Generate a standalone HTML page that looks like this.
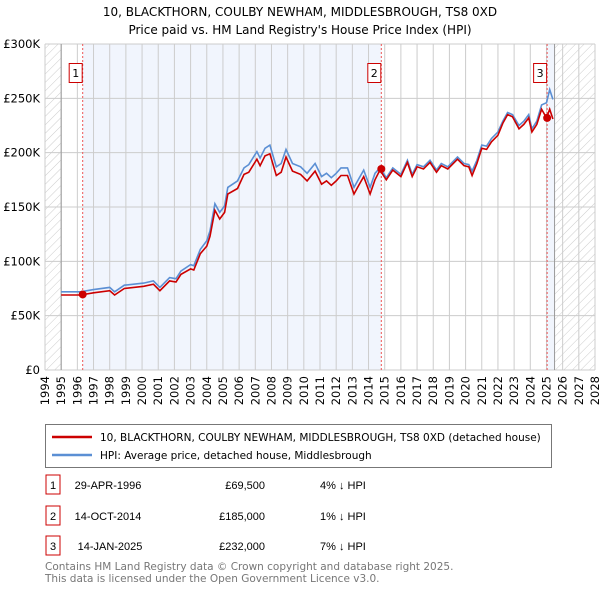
<!DOCTYPE html>
<html><head><meta charset="utf-8"><style>
body{margin:0;background:#fff;font-family:"Liberation Sans","DejaVu Sans",sans-serif;}
svg text{font-family:"DejaVu Sans","Liberation Sans",sans-serif;}
svg .tbl text{font-family:"Liberation Sans","DejaVu Sans",sans-serif;}
</style></head><body>
<svg id="chart" width="600" height="590" xmlns="http://www.w3.org/2000/svg">
<defs><pattern id="hatch" patternUnits="userSpaceOnUse" width="6" height="6" patternTransform="rotate(45)"><line x1="0" y1="0" x2="0" y2="6" stroke="#ccc" stroke-width="1"/></pattern></defs>
<text x="300" y="16" text-anchor="middle" font-size="12">10, BLACKTHORN, COULBY NEWHAM, MIDDLESBROUGH, TS8 0XD</text>
<text x="300" y="34" text-anchor="middle" font-size="12">Price paid vs. HM Land Registry's House Price Index (HPI)</text>
<g id="plot"></g>
<rect x="45.5" y="424.5" width="506" height="43" fill="#fff" stroke="#777"/>
<line x1="52" y1="437" x2="92" y2="437" stroke="#c00" stroke-width="2.5"/>
<text x="100" y="441" font-size="10.5">10, BLACKTHORN, COULBY NEWHAM, MIDDLESBROUGH, TS8 0XD (detached house)</text>
<line x1="52" y1="455" x2="92" y2="455" stroke="#5b8fd4" stroke-width="2.5"/>
<text x="100" y="459" font-size="10.5">HPI: Average price, detached house, Middlesbrough</text>
<g font-size="11" class="tbl">
<rect x="46" y="475" width="14" height="19" fill="none" stroke="#c00"/><text x="53" y="489" text-anchor="middle">1</text>
<text x="108" y="489" text-anchor="middle">29-APR-1996</text>
<text x="265" y="489" text-anchor="end">£69,500</text>
<text x="320" y="489">4% ↓ HPI</text>
<rect x="46" y="506" width="14" height="19" fill="none" stroke="#c00"/><text x="53" y="520" text-anchor="middle">2</text>
<text x="108" y="520" text-anchor="middle">14-OCT-2014</text>
<text x="265" y="520" text-anchor="end">£185,000</text>
<text x="320" y="520">1% ↓ HPI</text>
<rect x="46" y="536" width="14" height="19" fill="none" stroke="#c00"/><text x="53" y="550" text-anchor="middle">3</text>
<text x="110" y="550" text-anchor="middle">14-JAN-2025</text>
<text x="265" y="550" text-anchor="end">£232,000</text>
<text x="320" y="550">7% ↓ HPI</text>
</g>
<text x="45" y="570" font-size="10.5" fill="#777">Contains HM Land Registry data © Crown copyright and database right 2025.</text>
<text x="45" y="582" font-size="10.5" fill="#777">This data is licensed under the Open Government Licence v3.0.</text>
</svg>
<script>
const hpiYears=[1995.0,1996.2,1997.0,1998.0,1998.3,1998.9,2000.1,2000.7,2001.1,2001.7,2002.1,2002.4,2003.0,2003.2,2003.6,2004.0,2004.2,2004.5,2004.8,2005.1,2005.3,2005.9,2006.3,2006.6,2007.1,2007.3,2007.6,2007.9,2008.3,2008.6,2008.9,2009.3,2009.8,2010.2,2010.7,2011.1,2011.4,2011.7,2012.0,2012.3,2012.7,2013.1,2013.4,2013.7,2014.1,2014.4,2014.7,2015.1,2015.5,2016.0,2016.4,2016.7,2017.0,2017.4,2017.8,2018.2,2018.5,2018.9,2019.5,2019.9,2020.2,2020.4,2020.7,2021.0,2021.3,2021.6,2022.0,2022.3,2022.6,2022.9,2023.3,2023.6,2023.9,2024.1,2024.4,2024.7,2025.0,2025.2,2025.4];
const hpiValues=[72,72,74,76,72,78,80,82,76,85,84,91,97,96,111,119,128,153,145,151,168,174,186,189,201,195,204,207,187,190,203,190,187,181,190,178,181,177,181,186,186,168,176,184,168,181,186,177,186,180,193,180,189,187,193,184,190,187,196,190,189,183,193,207,206,213,219,229,237,235,225,229,235,222,229,244,246,258,249];
const priceValues=[69,69,71,73,69,75,77,79,73,82,81,88,93,92,107,114,123,147,139,145,162,167,180,182,194,188,197,199,179,182,196,183,180,174,183,171,174,170,174,179,179,162,170,178,162,175,184,175,184,178,191,178,187,185,191,182,188,185,194,188,187,179,190,204,203,210,216,227,235,233,222,226,232,219,226,240,232,240,231];
const saleYears=[1996.33,2014.79,2025.04];
const salePrices=[69.5,185,232];
const yTicks=[0,50,100,150,200,250,300];
const yTickLabels=["£0","£50K","£100K","£150K","£200K","£250K","£300K"];
const xTickYears=[1994,1995,1996,1997,1998,1999,2000,2001,2002,2003,2004,2005,2006,2007,2008,2009,2010,2011,2012,2013,2014,2015,2016,2017,2018,2019,2020,2021,2022,2023,2024,2025,2026,2027,2028];

const X0=45,X1=595,Y0=370,Y1=44;
const xs=y=>X0+(y-1994)/(2028-1994)*(X1-X0);
const ys=v=>Y0-v/300*(Y0-Y1);
const NS="http://www.w3.org/2000/svg";
const g=document.getElementById('plot');
function el(t,a){const e=document.createElementNS(NS,t);for(const k in a)e.setAttribute(k,a[k]);g.appendChild(e);return e;}
let r;
r=el('rect',{x:xs(1994),y:Y1,width:xs(1995)-xs(1994),height:Y0-Y1,fill:'url(#hatch)'});


r=el('rect',{x:xs(2025.5),y:Y1,width:X1-xs(2025.5),height:Y0-Y1,fill:'url(#hatch)'});


r=el('rect',{x:xs(saleYears[0]),y:Y1,width:xs(saleYears[1])-xs(saleYears[0]),height:Y0-Y1,fill:'#f1f5fd'});


r=el('rect',{x:xs(saleYears[2]),y:Y1,width:xs(2025.5)-xs(saleYears[2]),height:Y0-Y1,fill:'#f1f5fd'});


xTickYears.forEach(yr=>{
  const x=xs(yr);
  const l=el('line',{x1:x,y1:Y1,x2:x,y2:Y0,stroke:'#ccc','stroke-width':1});
  
  
  const t=el('text',{x:0,y:0,transform:`translate(${x+4},${Y0+6}) rotate(-90)`,'text-anchor':'end','font-size':'11.5'});
  t.textContent=yr;
  
  
});
yTicks.forEach((v,i)=>{
  const y=ys(v);
  const l=el('line',{x1:X0,y1:y,x2:X1,y2:y,stroke:'#ccc','stroke-width':1});
  
  
  const t=el('text',{x:40,y:y+4,'text-anchor':'end','font-size':'11.5'});
  t.textContent=yTickLabels[i];
  
  
});
[xs(1995),xs(2025.5)].forEach(x=>{
  const l=el('line',{x1:x,y1:Y1,x2:x,y2:Y0,stroke:'#999','stroke-width':1});
  
  
});
saleYears.forEach((yr,i)=>{
  const x=xs(yr);
  const l=el('line',{x1:x,y1:Y1,x2:x,y2:Y0,stroke:'#e55','stroke-width':1,'stroke-dasharray':'2,2'});
  
  
  const b=el('rect',{x:x-13.5,y:63.5,width:13,height:19,fill:'#fff',stroke:'#c00'});
  
  
  const t=el('text',{x:x-7,y:77,'text-anchor':'middle','font-size':'11'});
  t.textContent=String(i+1);
  
  
});
const path=(yrs,vals)=>yrs.map((y,i)=>(i?'L':'M')+xs(y).toFixed(1)+','+ys(vals[i]).toFixed(1)).join('');
const hp=el('path',{d:path(hpiYears,hpiValues),fill:'none',stroke:'#5b8fd4','stroke-width':1.6});


const pp=el('path',{d:path(hpiYears,priceValues),fill:'none',stroke:'#cc0000','stroke-width':1.6});


saleYears.forEach((yr,i)=>{
  const c=el('circle',{cx:xs(yr),cy:ys(salePrices[i]),r:4,fill:'#cc0000'});
  
  
});
</script>
</body></html>
